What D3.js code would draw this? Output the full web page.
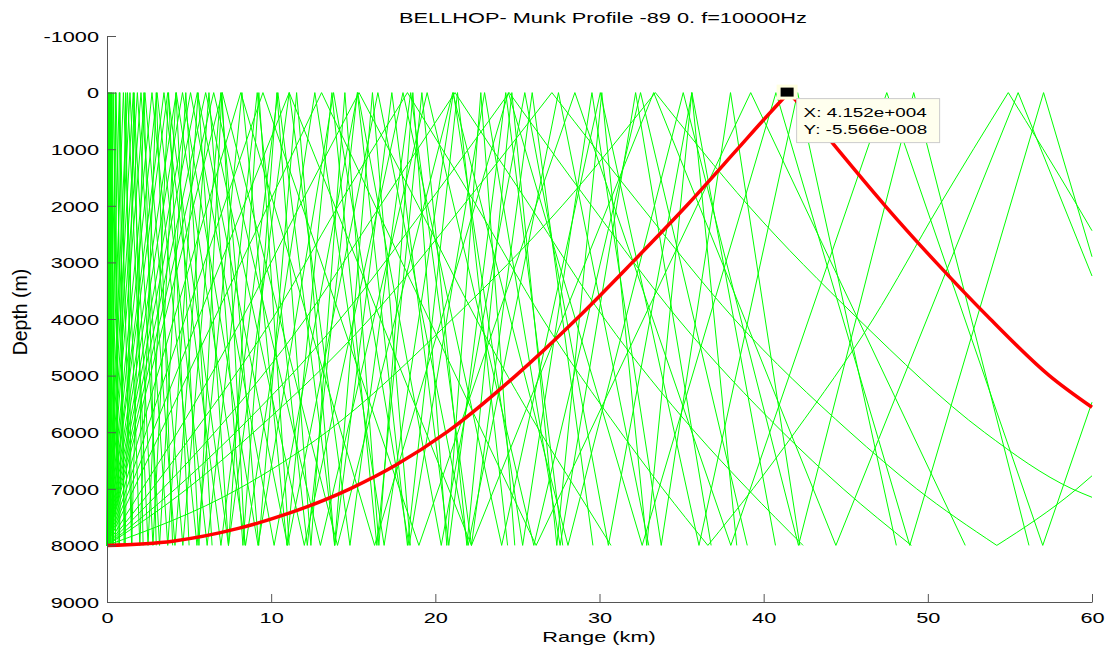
<!DOCTYPE html>
<html>
<head>
<meta charset="utf-8">
<script src="https://cdn.jsdelivr.net/npm/d3@7"></script>
<style>
  body { margin: 0; background: #fff; }
  svg { display: block; font-family: "Liberation Sans", Arial, Helvetica, sans-serif; }
</style>
</head>
<body>
<div id="chart"></div>
<script>
// ---- values ----
var title = "BELLHOP- Munk Profile -89 0. f=10000Hz";
var xTicks = [0, 10, 20, 30, 40, 50, 60];
var yTicks = [-1000, 0, 1000, 2000, 3000, 4000, 5000, 6000, 7000, 8000, 9000];
var bottomDepth = 8000;

// steep rays: ranges (km) of the reflections, alternately bottom (8000 m) and surface (0 m),
// starting at the source on the bottom at range 0
var steepRays = [
  [0, 0.04, 0.08, 0.12, 0.16, 0.20, 0.24],
  [0, 0.10, 0.20, 0.30, 0.40],
  [0, 0.17, 0.34, 0.51, 0.68],
  [0, 0.26, 0.52, 0.78, 1.04],
  [0, 0.38, 0.76, 1.14, 1.52],
  [0, 0.55, 1.10, 1.65, 2.20],
  [0, 0.75, 1.50, 2.25, 3.00],
  [0, 1.00, 2.00, 3.00, 4.00],
  [0, 1.25, 2.50, 3.75, 5.00],
  [0, 1.40, 2.80, 4.20, 5.60, 7.00, 8.40],
  [0, 1.60, 3.20, 4.80, 6.40],
  [0, 1.85, 3.70, 5.55, 7.40, 9.25, 11.10],
  [0, 2.07, 4.14, 6.21, 8.28, 10.35, 12.42, 14.49, 16.56, 18.63, 20.70, 22.77, 24.84],
  [0, 2.31, 4.62, 6.93, 9.24, 11.55, 13.86, 16.17, 18.48],
  [0, 2.74, 5.48, 8.22, 10.96, 13.70, 16.44, 19.18, 21.92, 24.66, 27.40, 30.14, 32.88, 35.62, 38.36],
  [0, 3.05, 6.10, 9.15, 12.20, 15.25, 18.30, 21.35, 24.40],
  [0, 3.47, 6.94, 10.41, 13.88, 17.35, 20.82, 24.29, 27.76],
  [0, 3.70, 7.40, 11.10, 14.80, 18.50, 22.20, 25.90, 29.60],
  [0, 4.22, 8.44, 12.66, 16.88, 21.10, 25.32, 29.54, 33.76, 37.98, 42.20],
  [0, 4.60, 9.20, 13.80, 18.40, 23.00, 27.60, 32.20, 36.80],
  [0, 5.09, 10.18, 15.27, 20.36, 25.45, 30.54, 35.63, 40.72],
  [0, 5.50, 11.00, 16.50, 22.00, 27.50, 33.00],
  [0, 6.01, 12.02, 18.03, 24.04, 30.05, 36.06, 42.07, 48.08],
  [0, 6.50, 13.00, 19.50, 26.00, 32.50, 39.00],
  [0, 7.02, 14.04, 21.06, 28.08, 35.10, 42.12, 49.14, 56.16],
  [0, 13.07, 26.14, 39.21, 52.28]
];

// flatter rays: [range km, depth m] along the path
var flatRays = [
  [[0, 8000], [8.15, 0], [16.3, 8000], [24.45, 0], [32.6, 8000], [40.75, 0], [48.9, 8000], [57.05, 0], [60, 2900]],
  [[0, 8000], [9.5, 0], [19, 8000], [28.5, 0], [38, 8000], [47.5, 0], [57, 8000], [60, 5470]],
  [[0, 8000], [11.1, 0], [22.2, 8000], [33.3, 0], [44.4, 8000], [55.5, 0], [60, 3240]],
  [[0, 8000], [2.15, 7000], [4.30, 6000], [8.21, 4000], [11.74, 2000], [15.35, 0], [18.96, 2000], [22.49, 4000], [26.40, 6000], [28.55, 7000], [30.70, 8000]],
  [[0, 8000], [2.75, 7000], [5.31, 6000], [10.07, 4000], [14.09, 2000], [18.3, 0], [22.51, 2000], [26.54, 4000], [31.29, 6000], [33.86, 7000], [36.6, 8000],
   [39.35, 7000], [41.91, 6000], [46.67, 4000], [50.69, 2000], [54.9, 0], [59.11, 2000], [60, 2440]],
  [[0, 8000], [3.39, 7000], [6.57, 6000], [12.08, 4000], [16.64, 2000], [21.2, 0], [25.76, 2000], [30.32, 4000], [35.83, 6000], [39.01, 7000], [42.4, 8000]],
  [[0, 8000], [4.17, 7000], [7.84, 6000], [14.21, 4000], [19.48, 2000], [24.5, 0], [29.52, 2000], [34.79, 4000], [41.16, 6000], [44.84, 7000], [49.0, 8000]],
  [[0, 8000], [4.88, 7000], [8.94, 6000], [15.99, 4000], [21.68, 2000], [27.1, 0], [32.52, 2000], [38.21, 4000], [45.26, 6000], [49.32, 7000], [54.2, 8000],
   [59.08, 7000], [60, 6770]],
  [[0, 8000], [8.02, 7000], [13.36, 6000], [21.04, 4000], [27.72, 2000], [33.4, 0], [39.08, 2000], [45.76, 4000], [53.44, 6000], [58.78, 7000], [60, 7150]]
];

// the highlighted (0 degree) ray
var redRay = [[0, 8000], [4, 7925], [8, 7700], [11, 7440], [14.8, 7000], [17.6, 6580], [20.7, 6000], [24.9, 5000], [28.6, 4000],
  [32.0, 3000], [35.3, 2000], [38.4, 1000], [40.0, 480], [41.52, 0], [43.0, 470], [44.5, 1000], [47.4, 2000], [50.5, 3000],
  [53.8, 4000], [57.4, 5000], [60, 5560]];

// data cursor
var tipX = 41520;
var tipY = -5.566e-8;

// ---- layout ----
var width = 1110, height = 651;
var stretch = 1.45;   // the figure's lettering is drawn wide

var svg = d3.select("#chart")
  .append("svg")
    .attr("width", width)
    .attr("height", height);

var x = d3.scaleLinear().domain([0, 60]).range([107, 1092]);
var y = d3.scaleLinear().domain([-1000, 9000]).range([36, 602]);

// split a path into legs at each reflection so the corners stay sharp
function legs(points) {
  var out = [], cur = [points[0]];
  for (var i = 1; i < points.length; i++) {
    cur.push(points[i]);
    var z = points[i][1];
    if (i < points.length - 1 && (z === 0 || z === bottomDepth)) {
      out.push(cur);
      cur = [points[i]];
    }
  }
  if (cur.length > 1) out.push(cur);
  return out;
}

var line = d3.line()
  .x(function(d) { return x(d[0]); })
  .y(function(d) { return y(d[1]); })
  .curve(d3.curveMonotoneX);

var greenRays = steepRays.map(function(r) {
  return r.map(function(v, i) { return [v, i % 2 === 0 ? bottomDepth : 0]; });
}).concat(flatRays);

var greenLegs = [];
greenRays.forEach(function(r) { greenLegs = greenLegs.concat(legs(r)); });

svg.append("g")
  .selectAll("path")
  .data(greenLegs)
  .enter().append("path")
    .attr("fill", "none")
    .attr("stroke", "#00ff00")
    .attr("stroke-width", 1)
    .attr("d", line);

svg.append("g")
  .selectAll("path")
  .data(legs(redRay))
  .enter().append("path")
    .attr("fill", "none")
    .attr("stroke", "#ff0000")
    .attr("stroke-width", 3.5)
    .attr("stroke-linejoin", "round")
    .attr("d", line);

// ---- axes (ticks point inwards, no box) ----
var axisColor = "#555";

var gx = svg.append("g")
    .attr("transform", "translate(0," + y(9000) + ")")
    .call(d3.axisBottom(x).tickValues(xTicks).tickSizeInner(-8).tickSizeOuter(0)
      .tickFormat(function(d) { return String(d); }));

var gy = svg.append("g")
    .attr("transform", "translate(" + x(0) + ",0)")
    .call(d3.axisLeft(y).tickValues(yTicks).tickSizeInner(-9).tickSizeOuter(0)
      .tickFormat(function(d) { return String(d); }));

[gx, gy].forEach(function(g) {
  g.attr("font-family", null).attr("font-size", null);
  g.selectAll("path, line").attr("stroke", axisColor);
  g.selectAll("text").attr("fill", "#000").style("font-size", "15px");
});

gx.selectAll(".tick text")
    .attr("y", 0)
    .attr("dy", null)
    .attr("transform", "translate(0,21) scale(" + stretch + ",1)");

gy.selectAll(".tick text")
    .attr("x", 0)
    .attr("dy", "0.35em")
    .attr("transform", "translate(-8,0) scale(" + stretch + ",1)");

// titles
svg.append("text")
    .attr("text-anchor", "middle")
    .attr("transform", "translate(603,23) scale(" + stretch + ",1)")
    .style("font-size", "15px")
    .text(title);

svg.append("text")
    .attr("text-anchor", "middle")
    .attr("transform", "translate(599,642) scale(" + stretch + ",1)")
    .style("font-size", "15px")
    .text("Range (km)");

svg.append("text")
    .attr("text-anchor", "middle")
    .attr("transform", "translate(27,312) rotate(-90) scale(1.3,1.4)")
    .style("font-size", "15px")
    .text("Depth (m)");

// ---- data tip ----
function matlabExp(v) {
  var parts = v.toExponential(3).split("e");
  var sign = parts[1][0], ex = parts[1].slice(1);
  while (ex.length < 3) ex = "0" + ex;
  return parts[0] + "e" + sign + ex;
}

var mx = x(tipX / 1000) - 1, my = y(tipY);
var tip = svg.append("g");

tip.append("rect")
    .attr("x", mx - 11).attr("y", my - 8)
    .attr("width", 21).attr("height", 15)
    .attr("fill", "#ffffe0");
tip.append("rect")
    .attr("x", mx - 7).attr("y", my - 5)
    .attr("width", 13).attr("height", 9)
    .attr("fill", "#000");

tip.append("rect")
    .attr("x", mx + 9).attr("y", my + 6)
    .attr("width", 143).attr("height", 44)
    .attr("fill", "#ffffee")
    .attr("stroke", "#cccccc")
    .attr("stroke-width", 1);

[["X: ", tipX, 24], ["Y: ", tipY, 41]].forEach(function(r) {
  tip.append("text")
      .attr("transform", "translate(" + (mx + 16) + "," + (my + r[2]) + ") scale(" + stretch + ",1)")
      .style("font-size", "13px")
      .attr("fill", "#000")
      .text(r[0] + matlabExp(r[1]));
});
</script>
</body>
</html>
